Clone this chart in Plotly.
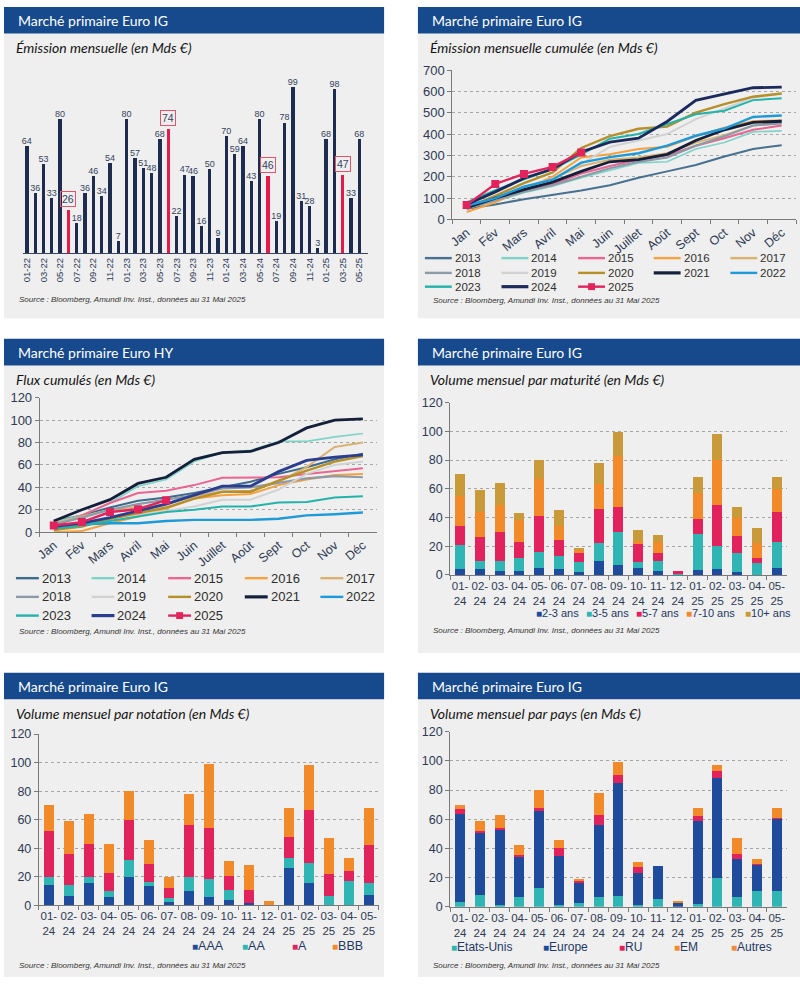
import plotly.graph_objects as go

W, H = 800, 985
def X(px): return px / W
def Y(py): return 1 - py / H

# ---------------- DATA ----------------
months1 = ['01-22','02-22','03-22','04-22','05-22','06-22','07-22','08-22','09-22','10-22','11-22','12-22',
           '01-23','02-23','03-23','04-23','05-23','06-23','07-23','08-23','09-23','10-23','11-23','12-23',
           '01-24','02-24','03-24','04-24','05-24','06-24','07-24','08-24','09-24','10-24','11-24','12-24',
           '01-25','02-25','03-25','04-25','05-25']
emission = [64,36,53,33,80,26,18,36,46,34,54,7,
            80,57,51,48,68,74,22,47,46,16,50,9,
            70,59,64,43,80,46,19,78,99,31,28,3,
            68,98,47,33,68]
highlight = ['06-22','06-23','06-24','03-25']

months_fr = ['Jan','Fév','Mars','Avril','Mai','Juin','Juillet','Août','Sept','Oct','Nov','Déc']
years = ['2013','2014','2015','2016','2017','2018','2019','2020','2021','2022','2023','2024','2025']

ig_2013 = [50,70,95,115,135,160,195,225,255,295,330,347]
ig_2014 = [55,85,125,155,195,230,265,270,330,360,410,415]
ig_2015 = [60,95,135,165,215,250,280,300,345,380,420,440]
ig_2016 = [35,80,140,200,290,305,330,340,390,430,460,465]
ig_2017 = [55,100,150,190,250,280,290,310,360,395,440,455]
ig_2018 = [50,90,130,160,200,240,270,290,345,390,440,450]
ig_2019 = [60,100,150,190,260,340,370,400,470,520,570,590]
ig_2020 = [55,110,170,220,335,390,425,435,500,540,575,590]
ig_2021 = [55,100,140,175,225,270,280,305,370,420,455,460]
ig_2022 = [64,100,153,186,266,292,310,346,392,426,480,487]
ig_2023 = [80,137,188,236,304,378,400,447,493,509,559,568]
ig_2024 = [70,129,193,236,316,362,381,459,558,589,617,620]
ig_2025 = [68,166,213,246,314]

hy_2013 = [10,15,22,28,31,35,40,45,52,58,65,70]
hy_2014 = [9,15,26,41,47,63,71,73,81,81,85,88]
hy_2015 = [5,15,26,35,37,42,48.5,49,49,52,54.5,57]
hy_2016 = [0,1,8,14,21,30,33,34,42,47,51,52]
hy_2017 = [8,14,20,22,25,32,36,37,45,58,76,80]
hy_2018 = [7,13,20,25,29,33,39,40,44,48,50,49]
hy_2019 = [3,6,12,16,19,23,29,29,38,52,60,63]
hy_2020 = [2,5,12,17,22,30,36,36,46,55,63,68]
hy_2021 = [10,20,29,43.5,49,65,71,72,80,93,100,101]
hy_2022 = [6,7,8,8,10,11,11,11,12,15,16,17.5]
hy_2023 = [3,6,10,14,18,20,23,23,26.5,27,31,32]
hy_2024 = [5,8,13,19,25,33,41,41,54,64,67,69]
hy_2025 = [6,9,18,20.5,28.5]

months2 = ['01-24','02-24','03-24','04-24','05-24','06-24','07-24','08-24','09-24','10-24','11-24','12-24',
           '01-25','02-25','03-25','04-25','05-25']
months2_text = ['01-<br>24','02-<br>24','03-<br>24','04-<br>24','05-<br>24','06-<br>24','07-<br>24','08-<br>24',
                '09-<br>24','10-<br>24','11-<br>24','12-<br>24','01-<br>25','02-<br>25','03-<br>25','04-<br>25','05-<br>25']

mat_names = ['2-3 ans','3-5 ans','5-7 ans','7-10 ans','10+ ans']
mat_2_3 = [4,4,3,3,5,4,2,9.5,7,4.5,2.5,0,3.5,4,2,0,5]
mat_3_5 = [17,6,7,9,11,9,7,13,23,4.5,7.5,0.5,25,16,13.5,8.5,18]
mat_5_7 = [13,16.5,20,11,25,11,6,23.5,17.5,13.5,5.5,2.5,10.5,28.5,11.5,3.5,20.5]
mat_7_10 = [21,17.5,18.5,15,26,10,3,17.5,35.5,1,7.5,0,18,31.5,12.5,10.5,16]
mat_10p = [15.5,15,15.5,5,13,11,1,14.5,16.5,8,5,0,11,18,7.5,10,8.5]

rat_names = ['AAA','AA','A','BBB']
rat_aaa = [14,6.5,16,6,20,13.5,2.5,10,6,3.5,1.5,0,26.5,16,0.5,0,7]
rat_aa = [6,7.5,4,4,12,3,2.5,10,12.5,7.5,0,0,7,14,6,17,8.5]
rat_a = [32,22,23,12.5,28,12.5,7.5,36,36,9.5,9.5,0,14.5,36.5,15.5,7,27]
rat_bbb = [18,23,21,20.5,20,16.5,7.5,22,44.5,10.5,17,3,20,31.5,25,9,25.5]

pays_names = ['Etats-Unis','Europe','RU','EM','Autres']
pays_us = [3.5,8,1.5,7,13,1,2.5,7,7.5,1,5.5,0,2,19.5,7,10.5,11]
pays_eu = [60,42.5,51,27,53.5,33.5,13.5,49,77.5,22,22.5,3,56.5,68.5,25.5,18.5,49.5]
pays_ru = [3.5,1.5,1.5,1.5,1,6,2,7,5.5,4.5,0,0,3.5,5,3.5,0.5,0.5]
pays_em = [2,6.5,9,7,12.5,5,1,15,8.5,3.5,0,0.5,6,4.5,11,3.5,6.5]
pays_autres = [1,0,0,0,0,0,0,0,0,0,0,0,0,0,0,0,0]

# ---------------- STYLE ----------------
NAVY = '#1e2c4f'
RED = '#e8194c'
HEADER = '#174a8c'
PANEL_BG = '#efefef'
AXF = 'Liberation Sans, Arial, sans-serif'
TITF = 'Lato, Open Sans, sans-serif'
TICKC = '#2e3a55'
GRID = '#a6a6a6'

year_colors = ['#48708f','#7fd3c9','#ea6590','#f4a13e','#d9b272','#8d9aa8','#d2d2d2',
               '#b58f2a','#141f3a','#1e9ad8','#22b3aa','#1c2a5b','#e2245c']
year_widths = [2,1.6,2,2,2,2.2,2,2.4,2.8,2.4,2,2.8,2.4]
hy_colors = ['#3e6b8c','#7fd3c9','#ea6590','#f4a13e','#d9b272','#8d9aa8','#d2d2d2',
             '#b58f2a','#141f3a','#1e9ad8','#22b3aa','#2b3d8f','#e2245c']
mat_colors = ['#1f4b9c','#2fb5b3','#e2225d','#f28a2a','#c99a3a']
rat_colors = ['#1f4b9c','#2fb5b3','#e2225d','#f28a2a']
pays_colors = ['#2fb5b3','#1f4b9c','#e2225d','#f28a2a','#ee8c3c']

fig = go.Figure()

# ---------------- PANEL 1 ----------------
fig.add_trace(go.Bar(x=months1, y=emission, width=0.4,
                     marker=dict(color=[RED if m in highlight else NAVY for m in months1], line_width=0),
                     xaxis='x', yaxis='y', showlegend=False, hoverinfo='skip'))
fig.add_trace(go.Scatter(x=months1, y=emission, mode='text',
                         text=['' if m in highlight else str(v) for m, v in zip(months1, emission)],
                         textposition='top center', cliponaxis=False,
                         textfont=dict(size=9, color='#34435f', family=AXF),
                         xaxis='x', yaxis='y', showlegend=False, hoverinfo='skip'))
annotations = []
for m, v in zip(months1, emission):
    if m in highlight:
        annotations.append(dict(x=m, y=v, xref='x', yref='y', text=str(v), showarrow=False,
                                yshift=11, font=dict(size=10.5, color='#34435f', family=AXF),
                                bordercolor='#e0556a', borderwidth=1, borderpad=1))

# ---------------- PANEL 2 ----------------
ig_series = [ig_2013, ig_2014, ig_2015, ig_2016, ig_2017, ig_2018, ig_2019, ig_2020,
             ig_2021, ig_2022, ig_2023, ig_2024, ig_2025]
for yr, vals, c, w in zip(years, ig_series, year_colors, year_widths):
    is25 = yr == '2025'
    fig.add_trace(go.Scatter(x=months_fr[:len(vals)], y=vals, mode='lines+markers' if is25 else 'lines',
                             line=dict(color=c, width=w),
                             marker=dict(symbol='square', size=8, color=c) if is25 else None,
                             xaxis='x2', yaxis='y2', showlegend=False, hoverinfo='skip'))

# ---------------- PANEL 3 ----------------
hy_series = [hy_2013, hy_2014, hy_2015, hy_2016, hy_2017, hy_2018, hy_2019, hy_2020,
             hy_2021, hy_2022, hy_2023, hy_2024, hy_2025]
for yr, vals, c, w in zip(years, hy_series, hy_colors, year_widths):
    is25 = yr == '2025'
    fig.add_trace(go.Scatter(x=months_fr[:len(vals)], y=vals, mode='lines+markers' if is25 else 'lines',
                             line=dict(color=c, width=w),
                             marker=dict(symbol='square', size=8, color=c) if is25 else None,
                             xaxis='x3', yaxis='y3', showlegend=False, hoverinfo='skip'))

# ---------------- PANELS 4-6 ----------------
for name, vals, c in zip(mat_names, [mat_2_3, mat_3_5, mat_5_7, mat_7_10, mat_10p], mat_colors):
    fig.add_trace(go.Bar(x=months2, y=vals, name=name, width=0.5, marker=dict(color=c, line_width=0),
                         xaxis='x4', yaxis='y4', showlegend=False, hoverinfo='skip'))
for name, vals, c in zip(rat_names, [rat_aaa, rat_aa, rat_a, rat_bbb], rat_colors):
    fig.add_trace(go.Bar(x=months2, y=vals, name=name, width=0.5, marker=dict(color=c, line_width=0),
                         xaxis='x5', yaxis='y5', showlegend=False, hoverinfo='skip'))
for name, vals, c in zip(pays_names, [pays_us, pays_eu, pays_ru, pays_em, pays_autres], pays_colors):
    fig.add_trace(go.Bar(x=months2, y=vals, name=name, width=0.5, marker=dict(color=c, line_width=0),
                         xaxis='x6', yaxis='y6', showlegend=False, hoverinfo='skip'))

# ---------------- PANEL FRAMES ----------------
shapes = []
cols = [(0, 382, 12), (416, 800, 428)]
rows = [(0, 27, 316), (337, 364, 656), (676, 703, 985)]
headers = [['Marché primaire Euro IG', 'Marché primaire Euro IG'],
           ['Marché primaire Euro HY', 'Marché primaire Euro IG'],
           ['Marché primaire Euro IG', 'Marché primaire Euro IG']]
subtitles = [['Émission mensuelle (en Mds €)', 'Émission mensuelle cumulée (en Mds €)'],
             ['Flux cumulés (en Mds €)', 'Volume mensuel par maturité (en Mds €)'],
             ['Volume mensuel par notation (en Mds €)', 'Volume mensuel par pays (en Mds €)']]
source_y = [[297, 298], [634, 633], [973, 973]]
SOURCE = 'Source : Bloomberg, Amundi Inv. Inst., données au 31 Mai 2025'
for ri, (ht, hb, bb) in enumerate(rows):
    for ci, (x0, x1, tx) in enumerate(cols):
        shapes.append(dict(type='rect', xref='paper', yref='paper', x0=X(x0), x1=X(x1), y0=Y(bb), y1=Y(hb),
                           fillcolor=PANEL_BG, line_width=0, layer='below'))
        shapes.append(dict(type='rect', xref='paper', yref='paper', x0=X(x0), x1=X(x1), y0=Y(hb), y1=Y(ht),
                           fillcolor=HEADER, line_width=0, layer='below'))
        annotations.append(dict(xref='paper', yref='paper', x=X(tx), y=Y((ht + hb) / 2), xanchor='left',
                                yanchor='middle', showarrow=False, text=headers[ri][ci],
                                font=dict(family=TITF, size=14, color='white')))
        annotations.append(dict(xref='paper', yref='paper', x=X(tx - 2), y=Y(hb + 14), xanchor='left',
                                yanchor='middle', showarrow=False, text='<i>' + subtitles[ri][ci] + '</i>',
                                font=dict(family=TITF, size=14, color='#151515')))
        annotations.append(dict(xref='paper', yref='paper', x=X(x0 + 13), y=Y(source_y[ri][ci]), xanchor='left',
                                yanchor='middle', showarrow=False, text='<i>' + SOURCE + '</i>',
                                font=dict(family='Liberation Sans Narrow, Liberation Sans, Arial', size=8, color='#333333')))

# ---------------- LINE LEGENDS ----------------
def line_legend(colx, rowy, seglen, fsize, colors):
    for i, (yr, c) in enumerate(zip(years, colors)):
        x0 = colx[i % 5]
        yy = rowy[i // 5]
        w = 3.2 if yr in ('2021', '2024') else 2.4
        shapes.append(dict(type='line', xref='paper', yref='paper', x0=X(x0), x1=X(x0 + seglen),
                           y0=Y(yy), y1=Y(yy), line=dict(color=c, width=w)))
        if yr == '2025':
            xm = x0 + seglen / 2
            shapes.append(dict(type='rect', xref='paper', yref='paper', x0=X(xm - 3.5), x1=X(xm + 3.5),
                               y0=Y(yy + 3.5), y1=Y(yy - 3.5), fillcolor=c, line_width=0))
        annotations.append(dict(xref='paper', yref='paper', x=X(x0 + seglen + 1), y=Y(yy), xanchor='left',
                                yanchor='middle', showarrow=False, text=yr,
                                font=dict(family=AXF, size=fsize, color='#2e2e2e')))

line_legend([423, 500, 577, 653, 730], [255, 270, 284], 27, 11.5, year_colors)
line_legend([12, 88, 165, 242, 318], [580, 599, 618], 23, 13, hy_colors)

# ---------------- BAR LEGENDS ----------------
def bar_legend(names, colors, xs, yy, fsize):
    for n, c, x0 in zip(names, colors, xs):
        annotations.append(dict(xref='paper', yref='paper', x=X(x0), y=Y(yy), xanchor='left', yanchor='middle',
                                showarrow=False,
                                text='<span style="color:%s;font-size:10px">■</span>%s' % (c, n),
                                font=dict(family=AXF, size=fsize, color='#1f3864')))

bar_legend(mat_names, mat_colors, [533, 583, 633, 683, 743], 615, 11)
bar_legend(rat_names, rat_colors, [187, 237, 287, 328], 954, 12.5)
bar_legend(pays_names, pays_colors, [447, 540, 616, 671, 729], 955, 12)

# ---------------- AXES ----------------
def yax_common(rng, dtick, dom, anchor, fsize):
    return dict(domain=dom, anchor=anchor, range=rng, dtick=dtick, showline=True, linecolor='#7a7a7a',
                linewidth=1, ticks='outside', ticklen=4, tickcolor='#7a7a7a', showgrid=True,
                gridcolor=GRID, griddash='dot', gridwidth=1, zeroline=False,
                tickfont=dict(family=AXF, size=fsize, color=TICKC), fixedrange=True)

def xcat(dom, anchor, cats, ticktext, angle, fsize):
    return dict(domain=dom, anchor=anchor, type='category', categoryorder='array', categoryarray=cats,
                range=[-0.5, len(cats) - 0.5], tickvals=cats, ticktext=ticktext, tickangle=angle,
                showline=True, linecolor='#7a7a7a', linewidth=1, ticks='outside', tickson='boundaries',
                ticklen=4, tickcolor='#7a7a7a', showgrid=False,
                tickfont=dict(family=AXF, size=fsize, color=TICKC), fixedrange=True)

layout = dict(
    width=W, height=H, margin=dict(l=0, r=0, t=0, b=0),
    paper_bgcolor='white', plot_bgcolor='rgba(0,0,0,0)',
    barmode='stack', showlegend=False,
    shapes=shapes, annotations=annotations,
    xaxis=dict(domain=[X(18.8), X(365.5)], anchor='y', type='category', categoryorder='array',
               categoryarray=months1, range=[-0.5, 41.0], tickvals=months1[::2], ticktext=months1[::2],
               tickangle=-90, showline=True, linecolor='#3a4660', linewidth=1, ticks='', showgrid=False,
               tickfont=dict(family=AXF, size=9.5, color=TICKC), fixedrange=True),
    yaxis=dict(domain=[Y(250), Y(46)], anchor='x', range=[0, 120], visible=False, fixedrange=True),
    xaxis2=xcat([X(450.6), X(796)], 'y2', months_fr, months_fr, -40, 12.5),
    yaxis2=yax_common([0, 700], 100, [Y(215.7), Y(64)], 'x2', 13),
    xaxis3=xcat([X(35.9), X(374.8)], 'y3', months_fr, months_fr, -40, 12.5),
    yaxis3=yax_common([0, 120], 20, [Y(533.3), Y(396.7)], 'x3', 13),
    xaxis4=xcat([X(448.4), X(786.6)], 'y4', months2, months2_text, 0, 11.5),
    yaxis4=yax_common([0, 120], 20, [Y(576.7), Y(401.7)], 'x4', 12.5),
    xaxis5=xcat([X(35), X(376.7)], 'y5', months2, months2_text, 0, 11.5),
    yaxis5=yax_common([0, 120], 20, [Y(912.3), Y(738.3)], 'x5', 12.5),
    xaxis6=xcat([X(448.4), X(786.6)], 'y6', months2, months2_text, 0, 11.5),
    yaxis6=yax_common([0, 120], 20, [Y(913.7), Y(736)], 'x6', 12.5),
)
fig.update_layout(**layout)
fig.write_html('out.html', config={'displayModeBar': False},
               post_script=("document.documentElement.style.margin='0';"
                            "document.body.style.margin='0';document.body.style.padding='0';"
                            "document.documentElement.style.overflow='hidden';document.body.style.overflow='hidden';"
                            "var gd=document.getElementsByClassName('plotly-graph-div')[0];"
                            "gd.style.position='fixed';gd.style.left='0px';gd.style.top='0px';"
                            "window.scrollTo(0,0);"))
